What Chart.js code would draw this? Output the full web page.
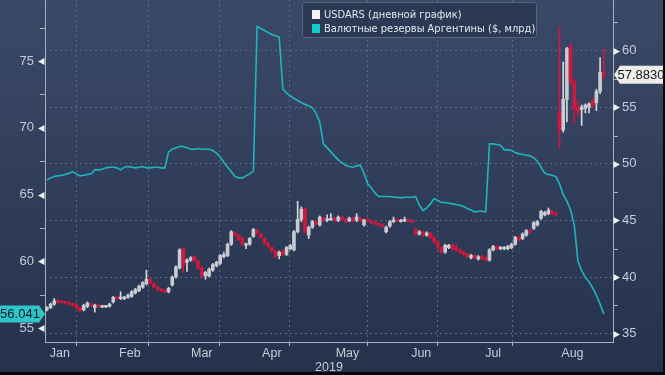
<!DOCTYPE html>
<html><head><meta charset="utf-8">
<script src="https://cdn.jsdelivr.net/npm/chart.js@4.4.0/dist/chart.umd.min.js"></script>
<style>
html,body{margin:0;padding:0;background:#05070b;}
#wrap{position:relative;width:663px;height:372px;background:linear-gradient(#3b4969,#26324c);overflow:hidden}
#legend{position:absolute;left:302px;top:2px;width:235px;height:36px;border:1px solid #56637f;border-radius:3px;background:#2c3954;box-sizing:border-box;font-family:'Liberation Sans Narrow','DejaVu Sans Condensed','Liberation Sans',sans-serif;font-size:11px;color:#e4e7ee;padding:5px 0 0 9px;line-height:14px;white-space:nowrap}
.sw{display:inline-block;width:8px;height:9px;margin-right:4px;vertical-align:-1px}
canvas{position:absolute;left:0;top:0}
</style></head>
<body>
<div id="wrap">
<canvas id="c" width="663" height="372"></canvas>
<div id="legend">
<div><span class="sw" style="background:#f4f1ee"></span>USDARS (дневной график)</div>
<div><span class="sw" style="background:#12c9cb"></span>Валютные резервы Аргентины ($, млрд)</div>
</div>
</div>
<script>
// ---- data (x = trading-day index from mid-January 2019) ----
const monthNames = ['Jan','Feb','Mar','Apr','May','Jun','Jul','Aug'];
const monthStarts = [0,13,33,52,71,93,111,132];
const monthLabelAt = [4,23,42.5,61.5,82,102,121.5,143];
const xEnd = 154;
const leftTicks = [55,57.5,60,62.5,65,67.5,70,72.5,75,77.5];
const rightTicks = [35,37.5,40,42.5,45,47.5,50,52.5,55,57.5,60,62.5];
const yearLabel = '2019';

const usdOpen = [37.1,37.3,37.6,37.9,37.85,37.8,37.7,37.6,37.6,37.3,37.1,37.4,37.6,
37.3,37.5,37.35,37.35,37.4,37.8,38.2,38.1,38.1,38.2,38.3,38.6,38.8,39.1,39.4,39.8,39.4,39.1,38.9,38.85,
38.7,39.3,40.0,40.8,42.5,41.3,41.5,41.8,41.4,40.8,40.1,40.1,40.6,41.0,41.2,41.8,41.9,42.9,43.9,
43.7,43.4,42.8,42.9,43.6,44.1,43.8,43.4,43.0,42.6,42.3,41.9,42.3,42.0,42.5,42.4,44.0,45.1,46.0,
43.7,44.4,44.9,44.6,45.2,45.0,45.05,45.2,45.0,45.3,45.1,44.95,45.2,45.0,45.2,44.6,45.1,44.95,44.85,44.75,44.6,44.0,
44.5,44.9,45.05,44.9,44.95,45.05,45.0,44.2,43.8,44.0,43.7,43.9,43.5,43.1,42.6,42.2,42.6,42.8,
42.6,42.4,42.2,42.0,41.7,41.9,41.6,41.8,41.7,41.5,42.4,42.7,42.5,42.5,42.5,42.6,42.9,43.5,43.4,43.7,44.1,
44.3,44.6,45.2,45.5,45.6,45.8,45.65,54.6,53.0,55.7,60.4,57.3,55.0,54.8,54.9,55.0,55.6,55.4,56.4,58.1];
const usdHigh = [37.4,37.7,38.1,38.0,37.9,37.85,37.8,37.7,37.65,37.35,37.6,37.8,37.7,
37.6,37.55,37.5,37.5,37.7,38.3,38.25,38.7,38.3,38.5,38.8,39.0,39.3,39.6,40.6,39.9,39.5,39.2,39.0,38.9,
39.1,40.1,41.0,42.5,42.6,41.6,41.8,41.9,41.5,40.9,40.5,40.8,41.2,41.4,42.0,42.2,43.0,44.1,44.0,
43.8,43.5,43.0,43.5,44.3,44.2,43.9,43.5,43.1,42.7,42.4,42.3,42.4,42.7,42.9,44.1,46.7,46.2,46.1,
44.5,45.0,45.0,45.4,45.3,45.5,45.6,45.3,45.4,45.4,45.2,45.3,45.3,45.6,45.3,45.1,45.2,45.0,44.9,44.8,44.7,44.5,
45.0,45.3,45.1,45.1,45.3,45.1,45.05,44.3,44.1,44.05,44.0,43.95,43.6,43.2,42.7,42.9,42.9,42.9,
42.9,42.5,42.3,42.1,42.0,42.0,41.9,41.9,41.8,42.5,42.8,42.8,42.7,42.7,42.8,43.0,43.6,43.6,43.9,44.2,44.2,
44.9,45.0,45.9,45.8,46.1,45.9,45.7,62.1,59.0,60.3,60.6,57.5,55.6,55.2,55.3,55.4,55.8,56.6,59.4,60.2];
const usdLow = [37.0,37.2,37.5,37.7,37.7,37.6,37.5,37.4,37.2,36.9,37.0,37.3,37.4,
36.9,37.3,37.3,37.3,37.35,37.7,38.0,38.0,38.0,38.1,38.2,38.5,38.7,39.0,39.3,39.4,39.0,38.8,38.7,38.6,
38.6,39.2,39.9,40.7,40.4,40.5,41.4,41.3,40.7,40.0,39.8,40.0,40.5,40.9,41.1,41.7,41.8,42.8,43.6,
43.2,42.8,42.5,42.8,43.5,43.8,43.4,42.9,42.6,42.2,41.7,41.6,41.9,41.9,42.4,42.3,43.9,44.9,43.9,
43.4,44.3,44.6,44.5,44.9,44.9,45.0,44.9,44.9,45.0,44.8,44.9,44.9,44.9,44.9,44.5,44.9,44.7,44.6,44.5,44.4,43.9,
44.4,44.8,44.9,44.85,44.9,44.9,44.8,43.7,43.7,43.6,43.6,43.4,43.0,42.5,42.1,42.1,42.5,42.4,
42.3,42.1,41.9,41.7,41.6,41.6,41.5,41.5,41.4,41.4,42.3,42.4,42.4,42.4,42.4,42.5,42.8,43.2,43.3,43.6,43.9,
44.2,44.5,45.1,45.4,45.5,45.5,45.4,51.4,52.8,53.7,57.0,53.6,54.2,53.4,54.5,54.5,54.9,54.7,56.2,57.4];
const usdClose = [37.3,37.6,37.9,37.8,37.75,37.7,37.6,37.5,37.3,37.0,37.5,37.7,37.5,
37.5,37.4,37.45,37.45,37.6,38.2,38.1,38.2,38.2,38.4,38.7,38.9,39.2,39.5,39.8,39.5,39.1,38.9,38.8,38.7,
39.0,40.0,40.9,42.4,41.1,41.5,41.7,41.4,40.8,40.1,40.4,40.7,41.1,41.3,41.9,42.0,42.9,44.0,43.7,
43.3,42.9,42.9,43.4,44.2,43.9,43.5,43.0,42.7,42.3,41.8,42.2,42.0,42.6,42.8,44.0,45.1,46.0,44.0,
44.4,44.9,44.7,45.3,45.0,45.1,45.2,45.0,45.3,45.1,44.9,45.2,45.0,45.3,45.0,45.05,44.95,44.8,44.7,44.6,44.45,44.4,
44.9,45.0,44.95,45.0,45.05,44.95,44.85,43.8,44.0,43.7,43.9,43.5,43.1,42.6,42.2,42.8,42.8,42.5,
42.4,42.2,42.0,41.8,41.9,41.7,41.8,41.6,41.5,42.4,42.7,42.5,42.6,42.6,42.7,42.9,43.5,43.3,43.8,44.1,43.95,
44.8,44.9,45.8,45.7,45.9,45.6,45.5,53.0,55.7,60.2,57.3,54.8,54.7,55.0,55.2,55.3,55.2,56.4,58.1,57.883];

const reserves = [66.1,66.25,66.35,66.4,66.45,66.5,66.6,66.7,66.55,66.4,66.45,66.5,66.55,
66.85,66.85,66.9,67.0,67.05,67.05,67.0,66.85,67.05,67.1,67.05,67.0,67.05,67.1,67.0,67.0,67.05,67.05,67.0,67.0,
68.2,68.4,68.5,68.6,68.6,68.5,68.4,68.4,68.45,68.4,68.4,68.4,68.3,68.1,67.8,67.4,67.05,66.7,66.35,
66.25,66.25,66.4,66.55,66.75,77.6,77.45,77.3,77.15,77.0,76.9,76.8,72.9,72.6,72.4,72.2,72.05,71.9,71.75,
71.65,71.5,71.1,70.4,68.8,68.5,68.2,67.9,67.6,67.4,67.2,67.1,67.05,67.15,67.2,66.6,65.8,65.5,65.1,64.85,64.85,64.85,
64.85,64.8,64.8,64.75,64.8,64.8,64.8,64.85,64.2,63.8,64.0,64.3,64.7,64.55,64.4,64.4,64.35,64.3,
64.25,64.2,64.1,63.95,63.85,63.7,63.75,63.75,63.7,68.8,68.8,68.75,68.7,68.35,68.35,68.3,68.15,68.05,68.0,67.95,67.9,
67.75,67.5,67.05,66.6,66.5,66.45,66.35,65.8,65.0,64.5,63.85,62.7,60.0,59.3,58.8,58.45,58.0,57.45,56.8,56.041];

// ---- chart ----
const UP='#c8cbd1', DOWN='#cf1840', LINE='#20b4be', GRID='#5a6886', AXIS='#a7afbf', TXT='#c6cbd6';
const FONT="'Liberation Sans','Arial',sans-serif";
const isUp = i => usdClose[i] >= usdOpen[i];
const wicks = usdClose.map((c,i)=>({x:i+0.5, y:[usdLow[i], usdHigh[i]]}));
const bodies = usdClose.map((c,i)=>({x:i+0.5, y:[usdOpen[i], c]}));
const resv = reserves.map((v,i)=>({x:i+0.5, y:v}));
const xTickVals = monthStarts.concat(monthLabelAt).sort((a,b)=>a-b);
const noPad = s => { s.paddingTop = 0; s.paddingBottom = 0; s.paddingLeft = 0; s.paddingRight = 0; };

const decor = {
  id:'decor',
  afterDraw(chart){
    const c=chart.ctx, L=chart.scales.yL, R=chart.scales.yR, a=chart.chartArea;
    c.save();
    c.fillStyle='#eef0f4'; c.strokeStyle=AXIS; c.lineWidth=1;
    leftTicks.forEach(v=>{
      const y=Math.round(L.getPixelForValue(v))+0.5;
      if(v%5===0){ c.beginPath(); c.moveTo(a.left-0.5,y-3.5); c.lineTo(a.left-0.5,y+3.5); c.lineTo(a.left-7,y); c.closePath(); c.fill(); }
      else { c.beginPath(); c.moveTo(a.left-5,y); c.lineTo(a.left,y); c.stroke(); }
    });
    rightTicks.forEach(v=>{
      const y=Math.round(R.getPixelForValue(v))+0.5;
      if(v%5===0){ c.beginPath(); c.moveTo(a.right+0.5,y-3.5); c.lineTo(a.right+0.5,y+3.5); c.lineTo(a.right+7,y); c.closePath(); c.fill(); }
      else { c.beginPath(); c.moveTo(a.right,y); c.lineTo(a.right+5,y); c.stroke(); }
    });
    // last-value tags
    c.font="13px "+FONT; c.textBaseline='middle'; c.textAlign='center';
    const lv = reserves[reserves.length-1];
    let y = L.getPixelForValue(lv);
    c.fillStyle='#2fc6ca';
    c.beginPath(); c.moveTo(0,y-8.5); c.lineTo(39,y-8.5); c.lineTo(a.left,y); c.lineTo(39,y+8.5); c.lineTo(0,y+8.5); c.closePath(); c.fill();
    c.fillStyle='#0b1a28'; c.fillText(lv.toFixed(3), 20, y+0.5);
    const cv = usdClose[usdClose.length-1];
    y = R.getPixelForValue(cv);
    c.fillStyle='#efede8';
    c.beginPath(); c.moveTo(a.right+1,y); c.lineTo(a.right+7,y-9); c.lineTo(663,y-9); c.lineTo(663,y+9); c.lineTo(a.right+7,y+9); c.closePath(); c.fill();
    c.fillStyle='#111820'; c.fillText(cv.toFixed(4), 641, y+0.5);
    c.restore();
  }
};

new Chart(document.getElementById('c'), {
  data:{
    datasets:[
      {type:'line', label:'reserves', data:resv, yAxisID:'yL', borderColor:LINE, borderWidth:1.6, pointRadius:0, tension:0, order:3},
      {type:'bar', label:'wick', data:wicks, yAxisID:'yR', grouped:false, barThickness:1,
        backgroundColor: ctx => isUp(ctx.dataIndex) ? '#d6d8dc' : DOWN, order:2},
      {type:'bar', label:'body', data:bodies, yAxisID:'yR', grouped:false, barThickness:3, minBarLength:1.5,
        backgroundColor: ctx => isUp(ctx.dataIndex) ? UP : DOWN, order:1}
    ]
  },
  options:{
    responsive:false, animation:false, devicePixelRatio:1,
    layout:{padding:0},
    plugins:{legend:{display:false}, tooltip:{enabled:false}},
    scales:{
      x:{type:'linear', position:'bottom', min:0, max:xEnd, offset:false,
        afterBuildTicks: s => { s.ticks = xTickVals.map(v=>({value:v})); },
        afterFit: s => { s.height = 30; noPad(s); },
        ticks:{autoSkip:false, maxRotation:0, padding:0, color:TXT, font:{size:12.5, family:FONT},
          callback: v => { const k = monthLabelAt.indexOf(v); return k>=0 ? monthNames[k] : ''; }},
        grid:{color: ctx => (ctx.tick && monthStarts.includes(ctx.tick.value) && ctx.tick.value>0) ? GRID : 'rgba(0,0,0,0)',
          tickColor: ctx => (ctx.tick && monthStarts.includes(ctx.tick.value) && ctx.tick.value>0) ? AXIS : 'rgba(0,0,0,0)',
          tickLength:4, lineWidth:1, borderDash:[2,3]},
        border:{color:AXIS, width:1, dash:[2,3]},
        title:{display:true, text:yearLabel, color:TXT, font:{size:12.5, family:FONT}, padding:{top:0,bottom:-3}}
      },
      yL:{type:'linear', position:'left', min:53.95, max:79.58,
        afterBuildTicks: s => { s.ticks = leftTicks.map(v=>({value:v})); },
        afterFit: s => { s.width = 45; noPad(s); },
        ticks:{padding:11, color:TXT, font:{size:13, family:FONT}, callback: v => v%5===0 ? String(v) : ''},
        grid:{drawOnChartArea:false, drawTicks:false},
        border:{color:AXIS, width:1}
      },
      yR:{type:'linear', position:'right', min:34.26, max:64.48,
        afterBuildTicks: s => { s.ticks = rightTicks.map(v=>({value:v})); },
        afterFit: s => { s.width = 50; noPad(s); },
        ticks:{padding:9, color:TXT, font:{size:13, family:FONT}, callback: v => v%5===0 ? String(v) : ''},
        grid:{color: ctx => (ctx.tick && ctx.tick.value%5===0) ? GRID : 'rgba(0,0,0,0)', drawTicks:false, borderDash:[2,3]},
        border:{color:AXIS, width:1, dash:[2,3]}
      }
    }
  },
  plugins:[decor]
});
</script>
</body></html>
